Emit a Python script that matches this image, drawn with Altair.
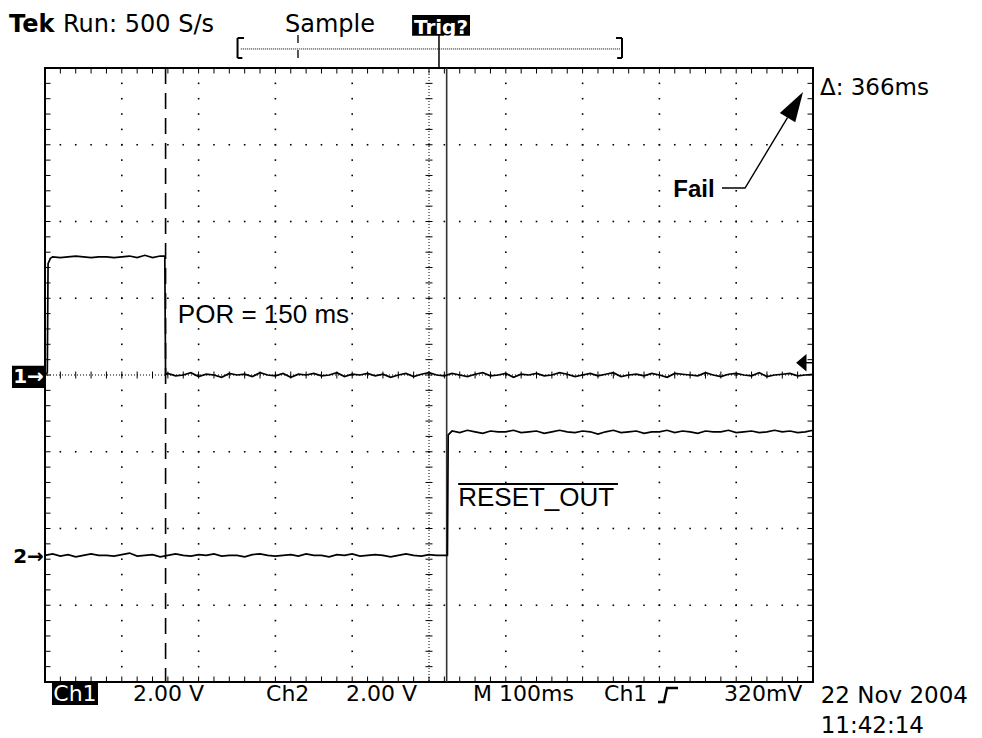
import altair as alt
import pandas as pd

# ---------------------------------------------------------------
# Scope capture: 100 ms/div horizontally (10 div), 2 V/div vertically (8 div)
# Horizontal unit: ms from left edge; vertical unit: divisions from centre.
# ---------------------------------------------------------------

# Channel 1 (POR pulse)
ch1_ms = [0, 3, 4, 7] + list(range(10, 151, 10)) + [156, 157] + list(range(160, 1001, 10))
ch1_div = (
    [0.0, 0.03, 1.45, 1.52]
    + [1.54, 1.53, 1.54, 1.55, 1.54, 1.53, 1.54, 1.54, 1.53, 1.54, 1.55, 1.53, 1.56, 1.53, 1.55]
    + [1.55, 0.01]
    + [0.02, -0.01, 0.00, 0.03, -0.02, 0.01, 0.00, -0.03, 0.02, 0.00,
       0.01, -0.02, 0.03, 0.00, -0.01, 0.02, -0.03, 0.01, 0.00, 0.02,
       -0.01, 0.00, 0.03, -0.02, 0.01, 0.00, 0.02, -0.01, 0.01, -0.03,
       0.00, 0.02, -0.02, 0.01, 0.03, 0.00, -0.01, 0.02, 0.00, -0.02,
       0.01, 0.03, -0.01, 0.00, 0.02, -0.03, 0.01, 0.00, 0.02, -0.01,
       0.00, 0.03, 0.01, -0.02, 0.00, 0.02, -0.01, 0.01, 0.03, -0.02,
       0.00, 0.01, -0.01, 0.02, 0.00, -0.03, 0.02, 0.01, 0.00, -0.01,
       0.03, 0.00, -0.02, 0.01, 0.02, 0.00, -0.01, 0.03, -0.02, 0.00,
       0.01, 0.02, -0.01, 0.00, 0.01]
)

# Channel 2 (RESET_OUT)
ch2_ms = list(range(0, 521, 10)) + [524, 525] + list(range(530, 1001, 10))
ch2_div = (
    [-2.35, -2.33, -2.36, -2.34, -2.37, -2.35, -2.33, -2.35, -2.35, -2.36,
     -2.34, -2.32, -2.36, -2.35, -2.34, -2.37, -2.35, -2.33, -2.35, -2.36,
     -2.34, -2.35, -2.33, -2.36, -2.35, -2.35, -2.37, -2.34, -2.33, -2.35,
     -2.36, -2.35, -2.34, -2.36, -2.33, -2.35, -2.35, -2.37, -2.34, -2.35,
     -2.33, -2.36, -2.35, -2.34, -2.35, -2.37, -2.35, -2.33, -2.35, -2.36,
     -2.34, -2.35, -2.35]
    + [-2.35, -0.78]
    + [-0.73, -0.75, -0.72, -0.74, -0.76, -0.73, -0.74, -0.74, -0.72, -0.75,
       -0.74, -0.73, -0.76, -0.74, -0.72, -0.74, -0.75, -0.73, -0.74, -0.77,
       -0.74, -0.72, -0.75, -0.74, -0.73, -0.76, -0.74, -0.74, -0.72, -0.75,
       -0.73, -0.74, -0.76, -0.73, -0.74, -0.74, -0.72, -0.75, -0.74, -0.73,
       -0.75, -0.74, -0.72, -0.74, -0.73, -0.75, -0.74, -0.72]
)

cursor_dashed_ms = [157]
cursor_solid_ms = [523]          # delta = 366 ms
trigger_level_div = [0.16]       # 320 mV at 2 V/div

TEK_FONT = "DejaVu Sans"
ANN_FONT = "Liberation Sans"

X_SCALE = alt.Scale(domain=[0, 1000], nice=False, zero=False)
Y_SCALE = alt.Scale(domain=[-4, 4], nice=False, zero=False)


def X(field):
    return alt.X(field, type="quantitative", scale=X_SCALE, axis=None)


def Y(field):
    return alt.Y(field, type="quantitative", scale=Y_SCALE, axis=None)


def X2(field):
    return alt.X2(field)


def Y2(field):
    return alt.Y2(field)


def texts(rows, **kw):
    df = pd.DataFrame(rows, columns=["ms", "div", "label"])
    base = dict(align="left", baseline="alphabetic", color="black", clip=False)
    base.update(kw)
    return alt.Chart(df).mark_text(**base).encode(x=X("ms"), y=Y("div"), text="label:N")


def segs(rows, **kw):
    df = pd.DataFrame(rows, columns=["x0", "x1", "y0", "y1"])
    base = dict(color="black", strokeWidth=2, clip=False)
    base.update(kw)
    return alt.Chart(df).mark_rule(**base).encode(
        x=X("x0"), x2=X2("x1"), y=Y("y0"), y2=Y2("y1"))


def boxes(rows, **kw):
    df = pd.DataFrame(rows, columns=["x0", "x1", "y0", "y1"])
    base = dict(color="black", clip=False)
    base.update(kw)
    return alt.Chart(df).mark_rect(**base).encode(
        x=X("x0"), x2=X2("x1"), y=Y("y0"), y2=Y2("y1"))


# ---------------- graticule ----------------
minor_x = [20 * i for i in range(1, 50)]
minor_y = [round(-4 + 0.2 * j, 2) for j in range(1, 40)]
major_x = [100, 200, 300, 400, 600, 700, 800, 900]
major_y = [-3, -2, -1, 1, 2, 3]

dots = pd.DataFrame(
    [(x, y) for x in major_x for y in minor_y] + [(x, y) for y in major_y for x in minor_x],
    columns=["ms", "div"])
grid_dots = alt.Chart(dots).mark_square(size=2.6, color="black", opacity=1).encode(
    x=X("ms"), y=Y("div"))

centre_h = alt.Chart(pd.DataFrame({"div": [0]})).mark_rule(
    color="black", strokeWidth=1, strokeDash=[1, 2]).encode(y=Y("div"))
centre_v = alt.Chart(pd.DataFrame({"ms": [500]})).mark_rule(
    color="black", strokeWidth=1, strokeDash=[1, 2]).encode(x=X("ms"))

centre_h_ticks = alt.Chart(pd.DataFrame({"ms": minor_x, "div": 0})).mark_tick(
    orient="vertical", size=7, thickness=1, color="black", opacity=1).encode(x=X("ms"), y=Y("div"))
centre_v_ticks = alt.Chart(pd.DataFrame({"ms": 500, "div": minor_y})).mark_tick(
    orient="horizontal", size=7, thickness=1, color="black", opacity=1).encode(x=X("ms"), y=Y("div"))

edge_x = pd.DataFrame([(x, y) for x in minor_x for y in (4, -4)], columns=["ms", "div"])
edge_y = pd.DataFrame([(x, y) for y in minor_y for x in (0, 1000)], columns=["ms", "div"])
edge_x_ticks = alt.Chart(edge_x).mark_tick(
    orient="vertical", size=11, thickness=1, color="black", opacity=1, clip=True,
    strokeDash=[1.5, 1.5]).encode(x=X("ms"), y=Y("div"))
edge_y_ticks = alt.Chart(edge_y).mark_tick(
    orient="horizontal", size=11, thickness=1, color="black", opacity=1, clip=True,
    strokeDash=[1.5, 1.5]).encode(x=X("ms"), y=Y("div"))

# ---------------- cursors ----------------
cur_dashed = alt.Chart(pd.DataFrame({"ms": cursor_dashed_ms})).mark_rule(
    color="black", strokeWidth=1.6, strokeDash=[16, 9]).encode(x=X("ms"))
cur_solid = alt.Chart(pd.DataFrame({"ms": cursor_solid_ms})).mark_rule(
    color="#333333", strokeWidth=1.6).encode(x=X("ms"))

# ---------------- traces ----------------
trace1 = alt.Chart(pd.DataFrame({"ms": ch1_ms, "div": ch1_div, "i": range(len(ch1_ms))})).mark_line(
    color="black", strokeWidth=1.7).encode(x=X("ms"), y=Y("div"), order="i:Q")
trace2 = alt.Chart(pd.DataFrame({"ms": ch2_ms, "div": ch2_div, "i": range(len(ch2_ms))})).mark_line(
    color="black", strokeWidth=1.7).encode(x=X("ms"), y=Y("div"), order="i:Q")

# trigger level indicator on the right edge
trig_arrow = alt.Chart(pd.DataFrame({"ms": [978], "div": trigger_level_div})).mark_point(
    shape="M0,0L1.2,-1L1.2,1Z", size=300, filled=True, color="black", opacity=1,
    strokeWidth=0).encode(x=X("ms"), y=Y("div"))
trig_stub = segs([(990, 1000, trigger_level_div[0], trigger_level_div[0])], strokeWidth=1.5)

# ---------------- channel markers ----------------
ch1_box = boxes([(-43, 0, 0.12, -0.17)])
ch1_mark = texts([(-21.5, -0.025, "1→")], align="center", baseline="middle",
                 font=TEK_FONT, fontSize=20, fontWeight="bold", color="white")
ch2_mark = texts([(-1.5, -2.37, "2→")], align="right", baseline="middle",
                 font=TEK_FONT, fontSize=20, fontWeight="bold")

# ---------------- annotations ----------------
por_label = texts([(173, 0.68, "POR = 150 ms")], font=ANN_FONT, fontSize=26)
reset_label = texts([(538, -1.71, "RESET_OUT")], font=ANN_FONT, fontSize=26)
reset_bar = segs([(538, 746, -1.42, -1.42)], strokeWidth=2)

fail_label = texts([(818, 2.32, "Fail")], font=ANN_FONT, fontSize=24, fontWeight="bold")
fail_leader = alt.Chart(pd.DataFrame({
    "ms": [881.5, 911.5, 966.8], "div": [2.436, 2.436, 3.352], "i": [0, 1, 2]})).mark_line(
    color="black", strokeWidth=1.4, clip=False).encode(x=X("ms"), y=Y("div"), order="i:Q")
fail_head = alt.Chart(pd.DataFrame({"ms": [987.0], "div": [3.687]})).mark_point(
    shape="M0,0L0.9,3L-0.9,3Z", size=400, angle=31, filled=True, color="black",
    opacity=1, strokeWidth=0, clip=False).encode(x=X("ms"), y=Y("div"))
delta_label = texts([(1009, 3.648, "Δ: 366ms")], font=TEK_FONT, fontSize=23)

# ---------------- header ----------------
hdr_bold = texts([(-46.9, 4.47, "Tek")], font=TEK_FONT, fontSize=24, fontWeight="bold")
hdr_text = texts([(23.4, 4.47, "Run: 500 S/s"), (312.5, 4.47, "Sample")],
                 font=TEK_FONT, fontSize=24)
trig_box = boxes([(478, 553.4, 4.69, 4.42)])
trig_text = texts([(515.6, 4.445, "Trig?")], align="center", font=TEK_FONT,
                  fontSize=20, fontWeight="bold", color="white")

record_line = segs([(255, 749, 4.248, 4.248)], strokeWidth=1, strokeDash=[1, 1])
brackets = segs([
    (250.7, 250.7, 4.391, 4.130), (250.7, 259.1, 4.391, 4.391), (250.7, 257.0, 4.130, 4.130),
    (751.3, 751.3, 4.391, 4.130), (743.5, 751.3, 4.391, 4.391), (745.0, 751.3, 4.130, 4.130),
])
window_mark = segs([(329.4, 329.4, 4.43, 4.09)], strokeWidth=1.3, strokeDash=[8, 7])
trig_pos_mark = segs([(513, 513, 4.43, 4.0)], strokeWidth=1.5)

# ---------------- footer ----------------
foot_box = boxes([(9.1, 69, -4.013, -4.30)])
foot_ch1 = texts([(39, -4.25, "Ch1")], align="center", font=TEK_FONT, fontSize=22, color="white")
foot_text = texts([
    (114.6, -4.25, "2.00 V"),
    (287.8, -4.25, "Ch2"),
    (392.0, -4.25, "2.00 V"),
    (557.3, -4.25, "M 100ms"),
    (727.9, -4.25, "Ch1"),
    (884.0, -4.25, "320mV"),
], font=TEK_FONT, fontSize=22)
slope_glyph = alt.Chart(pd.DataFrame({"ms": [811.2], "div": [-4.17]})).mark_point(
    shape="M-1,0.7L-0.4,0.7L-0.1,-0.7L1,-0.7", size=400, filled=False, color="black",
    opacity=1, strokeWidth=2.4, clip=False).encode(x=X("ms"), y=Y("div"))
date_text = texts([(1010, -4.27, "22 Nov 2004"), (1010, -4.66, "11:42:14")],
                  font=TEK_FONT, fontSize=23)

chart = alt.layer(
    grid_dots, centre_h, centre_v, centre_h_ticks, centre_v_ticks, edge_x_ticks, edge_y_ticks,
    cur_dashed, cur_solid, trace1, trace2, trig_arrow, trig_stub,
    ch1_box, ch1_mark, ch2_mark,
    por_label, reset_label, reset_bar, fail_label, fail_leader, fail_head, delta_label,
    hdr_bold, hdr_text, trig_box, trig_text, record_line, brackets, window_mark, trig_pos_mark,
    foot_box, foot_ch1, foot_text, slope_glyph, date_text,
).properties(
    width=768,
    height=614,
    autosize=alt.AutoSizeParams(type="none"),
    padding={"left": 45, "top": 68, "right": 169, "bottom": 56},
    background="white",
).configure_view(
    stroke="black",
    strokeWidth=2,
)

chart.save("out.html", embed_options={"renderer": "svg", "actions": False})
